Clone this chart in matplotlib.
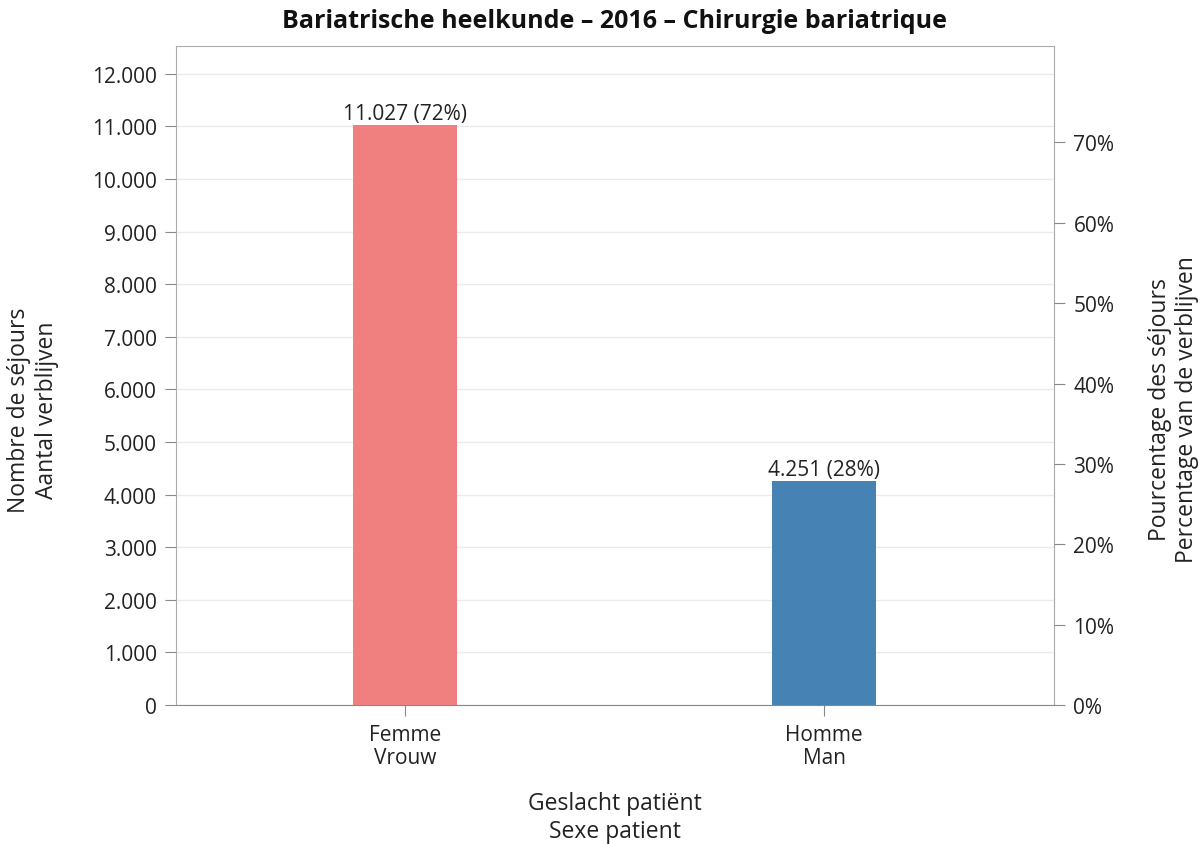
import matplotlib.pyplot as plt
from matplotlib.ticker import FuncFormatter, MultipleLocator, FixedLocator

plt.rcParams['font.family'] = ['Open Sans', 'DejaVu Sans']

categories = ['Femme\nVrouw', 'Homme\nMan']
stays = [11027, 4251]
colors = ['#F08080', '#4682B4']

total = sum(stays)
shares = [v / total * 100 for v in stays]

fig = plt.figure(figsize=(12, 8.45), dpi=100)
ax = fig.add_axes([0.1467, 0.1645, 0.7316, 0.78])

x = range(len(categories))
ax.bar(x, stays, width=0.248, color=colors, zorder=2)
for xi, v, p in zip(x, stays, shares):
    ax.text(xi, v + 20, f'{v:,}'.replace(',', '.') + f' ({p:.0f}%)',
            ha='center', va='bottom', fontsize=15, color='#222222')

ax.set_xlim(-0.547, 1.549)
ax.set_ylim(0, 12530)
ax.yaxis.set_major_locator(MultipleLocator(1000))
ax.yaxis.set_major_formatter(FuncFormatter(lambda v, _: f'{v:,.0f}'.replace(',', '.')))
ax.set_xticks(list(x))
ax.set_xticklabels(categories, linespacing=1.1)
ax.grid(axis='y', color='#ebebeb', linewidth=1, zorder=0)
ax.set_axisbelow(True)

for s in ['top', 'left', 'right']:
    ax.spines[s].set_color('#aaaaaa')
ax.spines['bottom'].set_color('#888888')
ax.tick_params(colors='#888888', labelcolor='#222222', labelsize=15, length=8, pad=6)

# right axis: share of all stays
ax2 = ax.twinx()
ax2.set_ylim(0, 12530 / total * 100)
ax2.yaxis.set_major_locator(FixedLocator(range(0, 71, 10)))
ax2.yaxis.set_major_formatter(FuncFormatter(lambda v, _: f'{v:.0f}%'))
ax2.tick_params(colors='#888888', labelcolor='#222222', labelsize=15, length=8, pad=6)
for s in ax2.spines.values():
    s.set_visible(False)

fig.text(0.5125, 0.974, 'Bariatrische heelkunde – 2016 – Chirurgie bariatrique',
         ha='center', va='center', fontsize=18, fontweight='bold', color='#111111')
fig.text(0.5125, 0.032, 'Geslacht patiënt\nSexe patient', ha='center', va='center',
         fontsize=16.5, color='#222222', linespacing=1.2)
fig.text(0.0275, 0.515, 'Nombre de séjours\nAantal verblijven', ha='center', va='center',
         rotation=90, fontsize=16.5, color='#222222', linespacing=1.2)
fig.text(0.978, 0.515, 'Pourcentage des séjours\nPercentage van de verblijven', ha='center',
         va='center', rotation=90, fontsize=16.5, color='#222222', linespacing=1.2)

fig.savefig('out.png', dpi=100)
